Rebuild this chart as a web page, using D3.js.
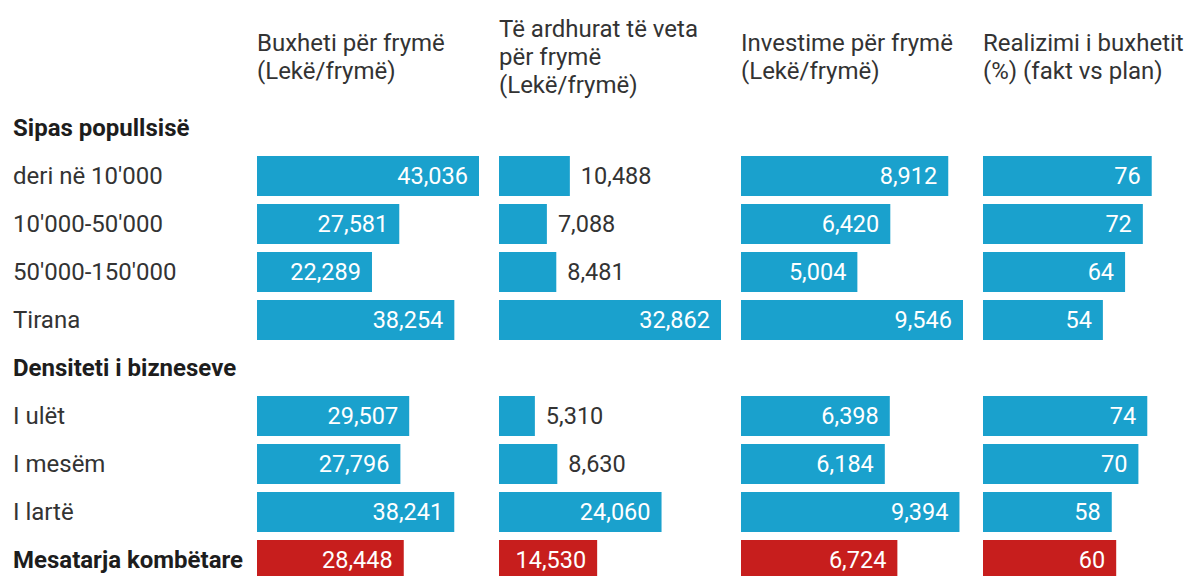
<!DOCTYPE html>
<html>
<head>
<meta charset="utf-8">
<script src="https://cdn.jsdelivr.net/npm/d3@7"></script>
<style>
  html, body { margin: 0; padding: 0; background: #ffffff; }
  svg { display: block; }
  text { font-family: Roboto, "Noto Sans", sans-serif; }
</style>
</head>
<body>
<svg id="chart" width="1188" height="576"></svg>
<script>
// ---- data ----
const rowLabels = ["Sipas popullsisë", "deri në 10'000", "10'000-50'000", "50'000-150'000", "Tirana",
                   "Densiteti i bizneseve", "I ulët", "I mesëm", "I lartë", "Mesatarja kombëtare"];
const rowTypes = ["group", "item", "item", "item", "item", "group", "item", "item", "item", "total"];

const columnTitles = [
  ["Buxheti për frymë", "(Lekë/frymë)"],
  ["Të ardhurat të veta", "për frymë", "(Lekë/frymë)"],
  ["Investime për frymë", "(Lekë/frymë)"],
  ["Realizimi i buxhetit", "(%) (fakt vs plan)"]
];

const buxheti    = [null, 43036, 27581, 22289, 38254, null, 29507, 27796, 38241, 28448];
const teArdhurat = [null, 10488, 7088, 8481, 32862, null, 5310, 8630, 24060, 14530];
const investime  = [null, 8912, 6420, 5004, 9546, null, 6398, 6184, 9394, 6724];
const realizimi  = [null, 76, 72, 64, 54, null, 74, 70, 58, 60];

const series = [buxheti, teArdhurat, investime, realizimi];
const domainMax = [d3.max(buxheti), d3.max(teArdhurat), d3.max(investime), 100];

// ---- layout ----
const svg = d3.select("#chart");
const FS = 24, FSV = 23.5;
const blue = "#1aa1cd", red = "#c71e1d", textCol = "#333333", boldCol = "#1d1d1d";
const colX0 = 257, colStep = 242, colW = 222, pad = 11;

const y = d3.scaleBand().domain(d3.range(rowLabels.length))
  .range([104, 104 + 48 * rowLabels.length]).paddingInner(8 / 48).paddingOuter(4 / 48);

// row labels
svg.append("g").selectAll("text").data(rowLabels).join("text")
  .attr("x", 13)
  .attr("y", (d, i) => y(i) + y.bandwidth() / 2)
  .attr("dy", "0.35em")
  .attr("font-size", FS)
  .attr("font-weight", (d, i) => rowTypes[i] === "item" ? 400 : 700)
  .attr("fill", (d, i) => rowTypes[i] === "item" ? textCol : boldCol)
  .text(d => d);

// columns
series.forEach((vals, c) => {
  const x0 = colX0 + c * colStep;
  const x = d3.scaleLinear().domain([0, domainMax[c]]).range([x0, x0 + colW]);
  const g = svg.append("g");

  // header
  const lines = columnTitles[c];
  const lh = 28, midBase = 64.5;
  const firstBase = midBase - (lines.length - 1) * lh / 2;
  const t = g.append("text").attr("font-size", FS).attr("fill", textCol);
  lines.forEach((l, k) => {
    t.append("tspan").attr("x", x0).attr("y", firstBase + k * lh).text(l);
  });

  const rows = vals.map((v, i) => ({ v, i })).filter(d => d.v != null);

  g.selectAll("rect").data(rows).join("rect")
    .attr("x", x(0))
    .attr("y", d => y(d.i))
    .attr("width", d => x(d.v) - x(0))
    .attr("height", y.bandwidth())
    .attr("fill", d => rowTypes[d.i] === "total" ? red : blue);

  const fmt = c === 3 ? d3.format("d") : d3.format(",");
  g.selectAll("text.val").data(rows).join("text")
    .attr("class", "val")
    .attr("y", d => y(d.i) + y.bandwidth() / 2)
    .attr("dy", "0.35em")
    .attr("font-size", FSV)
    .text(d => fmt(d.v))
    .each(function (d) {
      const w = this.getComputedTextLength();
      const bw = x(d.v) - x(0);
      const sel = d3.select(this);
      if (w + 2 * pad <= bw) {
        sel.attr("x", x(d.v) - pad).attr("text-anchor", "end").attr("fill", "#ffffff");
      } else {
        sel.attr("x", x(d.v) + pad).attr("text-anchor", "start").attr("fill", textCol);
      }
    });
});
</script>
</body>
</html>
